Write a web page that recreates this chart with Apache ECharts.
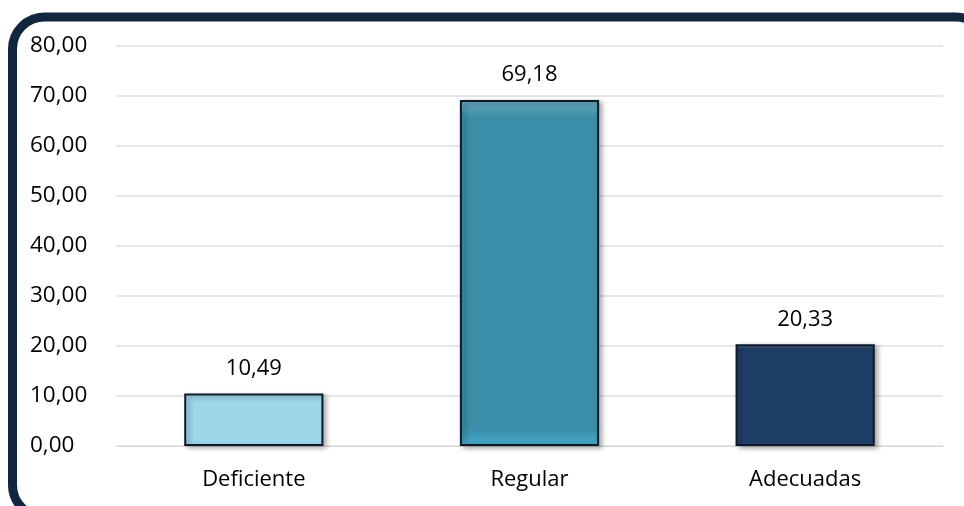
<!DOCTYPE html>
<html>
<head>
<meta charset="utf-8">
<script src="https://cdn.jsdelivr.net/npm/echarts@6/dist/echarts.min.js"></script>
<style>
html,body{margin:0;padding:0;background:#fff;}
#chart{width:964px;height:506px;}
</style>
</head>
<body>
<div id="chart"></div>
<script>
const categories = ['Deficiente', 'Regular', 'Adecuadas'];
const values = [10.49, 69.18, 20.33];
const barColors = ['#9dd7e8', '#3a8ea8', '#1f3e66'];
const yMin = 0, yMax = 80, yStep = 10;

const fmt = v => v.toFixed(2).replace('.', ',');
const FONT = 'Open Sans';

const chart = echarts.init(document.getElementById('chart'), null, {renderer: 'canvas'});
chart.setOption({
  backgroundColor: '#ffffff',
  animation: false,
  graphic: [{
    type: 'rect',
    shape: {x: 12.5, y: 17, width: 975, height: 500, r: 32},
    style: {fill: 'none', stroke: '#12263f', lineWidth: 9},
    z: 100
  }],
  grid: {left: 116, right: 21, top: 46, bottom: 60},
  xAxis: {
    type: 'category',
    data: categories,
    axisLine: {show: true, lineStyle: {color: '#d9d9d9', width: 1}},
    axisTick: {show: false},
    axisLabel: {color: '#000', fontFamily: FONT, fontSize: 22, margin: 23}
  },
  yAxis: {
    type: 'value',
    min: yMin, max: yMax, interval: yStep,
    axisLine: {show: false},
    axisTick: {show: false},
    splitLine: {lineStyle: {color: '#e6e6ea', width: 2}},
    axisLabel: {color: '#000', fontFamily: FONT, fontSize: 22.5, align: 'left', margin: 86,
      formatter: v => fmt(v)}
  },
  series: [{
    type: 'bar',
    barWidth: '50.5%',
    data: values.map((v, i) => ({
      value: v,
      itemStyle: {
        color: {
          type: 'linear', x: 0, y: 0, x2: 0, y2: 1,
          colorStops: [
            {offset: 0, color: echarts.color.lift(barColors[i], 0.25)},
            {offset: 0.05, color: barColors[i]},
            {offset: 0.95, color: barColors[i]},
            {offset: 1, color: echarts.color.lift(barColors[i], -0.2)}
          ]
        }
      }
    })),
    itemStyle: {
      borderColor: '#0d1a29', borderWidth: 2,
      shadowColor: 'rgba(0,0,0,0.35)', shadowBlur: 5, shadowOffsetX: 3, shadowOffsetY: 2
    },
    label: {
      show: true, position: 'top', distance: 14,
      color: '#000', fontFamily: FONT, fontSize: 22,
      formatter: p => fmt(p.value)
    }
  }]
});
</script>
</body>
</html>
